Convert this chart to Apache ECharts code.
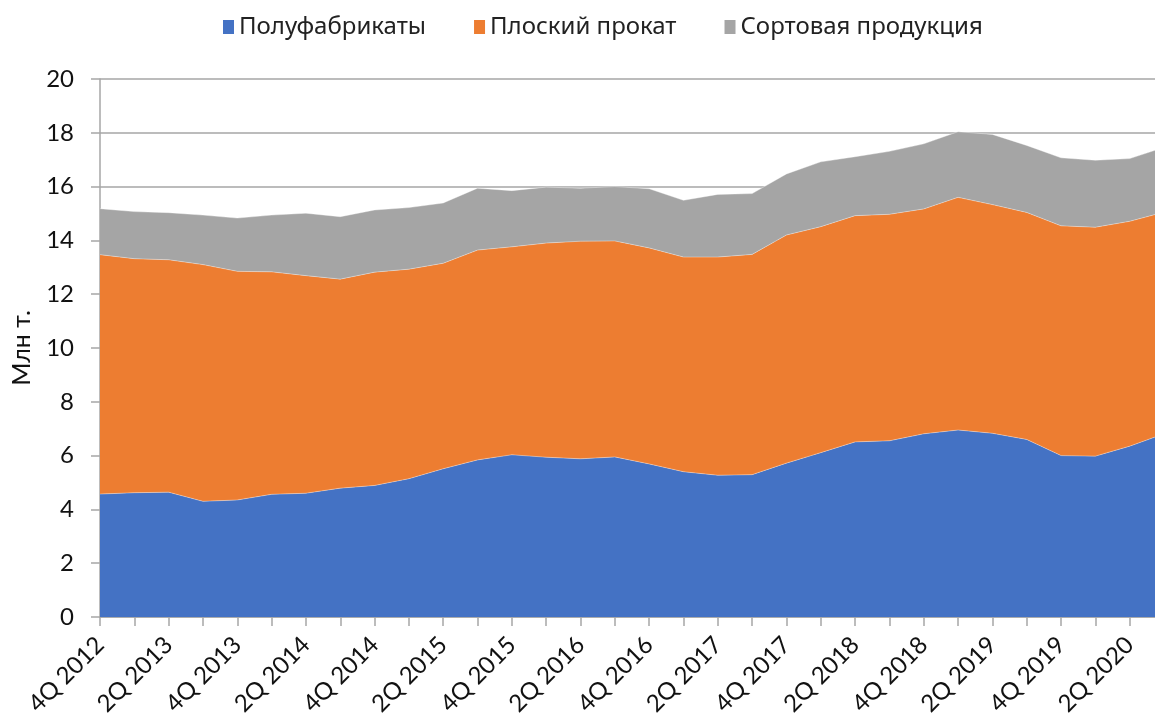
<!DOCTYPE html>
<html>
<head>
<meta charset="utf-8">
<script src="https://cdn.jsdelivr.net/npm/echarts@6/dist/echarts.min.js"></script>
<style>
html,body{margin:0;padding:0;background:#fff}
#main{width:1155px;height:716px}
</style>
</head>
<body>
<div id="main"></div>
<script>
var quarters=['4Q 2012','1Q 2013','2Q 2013','3Q 2013','4Q 2013','1Q 2014','2Q 2014','3Q 2014','4Q 2014',
	'1Q 2015','2Q 2015','3Q 2015','4Q 2015','1Q 2016','2Q 2016','3Q 2016','4Q 2016',
	'1Q 2017','2Q 2017','3Q 2017','4Q 2017','1Q 2018','2Q 2018','3Q 2018','4Q 2018',
	'1Q 2019','2Q 2019','3Q 2019','4Q 2019','1Q 2020','2Q 2020','3Q 2020']
// Полуфабрикаты
var semi=[4.57,4.62,4.64,4.30,4.35,4.56,4.60,4.79,4.89,5.14,5.51,5.84,6.03,5.94,5.88,5.95,5.69,
	5.40,5.27,5.29,5.72,6.11,6.51,6.55,6.81,6.95,6.83,6.60,6.00,5.98,6.35,6.81]
// Плоский прокат
var flat=[8.90,8.70,8.64,8.80,8.50,8.27,8.09,7.77,7.93,7.79,7.64,7.80,7.73,7.96,8.09,8.03,8.03,
	7.98,8.11,8.19,8.48,8.40,8.41,8.42,8.36,8.65,8.50,8.44,8.54,8.51,8.36,8.24]
// Сортовая продукция
var longp=[1.71,1.75,1.75,1.84,1.98,2.11,2.32,2.32,2.31,2.29,2.24,2.30,2.09,2.08,1.97,2.02,2.20,
	2.11,2.33,2.26,2.27,2.41,2.19,2.34,2.42,2.44,2.61,2.49,2.53,2.49,2.33,2.41]
var names=['Полуфабрикаты','Плоский прокат','Сортовая продукция']
var colors=['#4472C4','#ED7D31','#A5A5A5']

var chart=echarts.init(document.getElementById('main'))
function areaSeries(name,data,color){
	return {
		name:name,
		type:'line',
		stack:'total',
		data:data,
		symbol:'none',
		lineStyle:{width:0.6,color:'rgba(255,255,255,0.6)'},
		areaStyle:{color:color,opacity:1},
		itemStyle:{color:color}
	}
}
var option={
	animation:false,
	color:colors,
	legend:{
		top:10,
		left:218,
		icon:'rect',
		itemWidth:11,
		itemHeight:14,
		itemGap:48,
		textStyle:{fontFamily:'Noto Sans',fontSize:24,color:'#222'},
		data:names
	},
	grid:{left:100,right:-9,top:79,bottom:99,outerBoundsMode:'none'},
	xAxis:{
		type:'category',
		boundaryGap:false,
		data:quarters,
		axisLine:{lineStyle:{color:'#a6a6a6',width:1.5}},
		axisTick:{show:true,interval:0,length:9,lineStyle:{color:'#a6a6a6',width:1.5}},
		axisLabel:{interval:1,rotate:45,margin:24,fontFamily:'Lato',fontSize:24,color:'#111'}
	},
	yAxis:{
		type:'value',
		min:0,max:20,interval:2,
		name:'Млн т.',
		nameLocation:'middle',
		nameGap:66,
		nameRotate:90,
		nameTextStyle:{fontFamily:'Lato',fontSize:25,color:'#111'},
		axisLine:{show:true,lineStyle:{color:'#a6a6a6',width:1.5}},
		axisTick:{show:true,length:9,lineStyle:{color:'#a6a6a6',width:1.5}},
		axisLabel:{margin:26,fontFamily:'Lato',fontSize:24,color:'#111'},
		splitLine:{lineStyle:{color:'#a6a6a6',width:1.5}}
	},
	series:[
		areaSeries(names[0],semi,colors[0]),
		areaSeries(names[1],flat,colors[1]),
		areaSeries(names[2],longp,colors[2])
	]
}
chart.setOption(option)
</script>
</body>
</html>
